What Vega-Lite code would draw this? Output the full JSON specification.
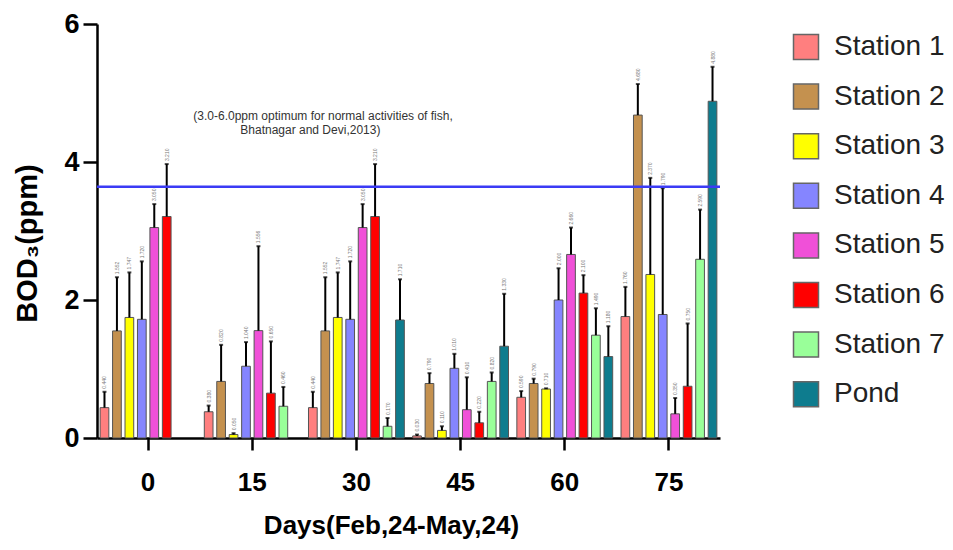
{
  "$schema": "https://vega.github.io/schema/vega-lite/v6.json",
  "width": 623,
  "height": 414,
  "autosize": {"type": "none"},
  "padding": {"left": 97, "top": 24, "right": 233, "bottom": 112},
  "background": "white",
  "config": {
    "view": {"stroke": null},
    "font": "Liberation Sans",
    "axis": {"grid": false, "domainColor": "black", "domainWidth": 2.5, "tickColor": "black", "tickWidth": 2.5, "labelColor": "black", "titleColor": "black", "labelFont": "Liberation Sans", "titleFont": "Liberation Sans", "labelFontWeight": "bold", "titleFontWeight": "bold"}
  },
  "datasets": {
    "bod": [
      {"day": "0", "station": "Station 1", "mean": 0.44, "upper": 0.67},
      {"day": "0", "station": "Station 2", "mean": 1.552, "upper": 2.33},
      {"day": "0", "station": "Station 3", "mean": 1.747, "upper": 2.40},
      {"day": "0", "station": "Station 4", "mean": 1.72, "upper": 2.56},
      {"day": "0", "station": "Station 5", "mean": 3.05, "upper": 3.39},
      {"day": "0", "station": "Station 6", "mean": 3.21, "upper": 3.97},
      {"day": "15", "station": "Station 1", "mean": 0.38, "upper": 0.47},
      {"day": "15", "station": "Station 2", "mean": 0.82, "upper": 1.35},
      {"day": "15", "station": "Station 3", "mean": 0.05, "upper": 0.07},
      {"day": "15", "station": "Station 4", "mean": 1.04, "upper": 1.39},
      {"day": "15", "station": "Station 5", "mean": 1.556, "upper": 2.78},
      {"day": "15", "station": "Station 6", "mean": 0.65, "upper": 1.40},
      {"day": "15", "station": "Station 7", "mean": 0.46, "upper": 0.74},
      {"day": "30", "station": "Station 1", "mean": 0.44, "upper": 0.67},
      {"day": "30", "station": "Station 2", "mean": 1.552, "upper": 2.33},
      {"day": "30", "station": "Station 3", "mean": 1.747, "upper": 2.40},
      {"day": "30", "station": "Station 4", "mean": 1.72, "upper": 2.56},
      {"day": "30", "station": "Station 5", "mean": 3.05, "upper": 3.39},
      {"day": "30", "station": "Station 6", "mean": 3.21, "upper": 3.97},
      {"day": "30", "station": "Station 7", "mean": 0.17, "upper": 0.29},
      {"day": "30", "station": "Pond", "mean": 1.71, "upper": 2.30},
      {"day": "45", "station": "Station 1", "mean": 0.03, "upper": 0.05},
      {"day": "45", "station": "Station 2", "mean": 0.79, "upper": 0.94},
      {"day": "45", "station": "Station 3", "mean": 0.11, "upper": 0.17},
      {"day": "45", "station": "Station 4", "mean": 1.01, "upper": 1.22},
      {"day": "45", "station": "Station 5", "mean": 0.41, "upper": 0.88},
      {"day": "45", "station": "Station 6", "mean": 0.22, "upper": 0.38},
      {"day": "45", "station": "Station 7", "mean": 0.82, "upper": 0.95},
      {"day": "45", "station": "Pond", "mean": 1.33, "upper": 2.09},
      {"day": "60", "station": "Station 1", "mean": 0.59, "upper": 0.68},
      {"day": "60", "station": "Station 2", "mean": 0.79, "upper": 0.86},
      {"day": "60", "station": "Station 3", "mean": 0.71, "upper": 0.72},
      {"day": "60", "station": "Station 4", "mean": 2.00, "upper": 2.46},
      {"day": "60", "station": "Station 5", "mean": 2.66, "upper": 3.05},
      {"day": "60", "station": "Station 6", "mean": 2.10, "upper": 2.36},
      {"day": "60", "station": "Station 7", "mean": 1.49, "upper": 1.88},
      {"day": "60", "station": "Pond", "mean": 1.18, "upper": 1.62},
      {"day": "75", "station": "Station 1", "mean": 1.76, "upper": 2.19},
      {"day": "75", "station": "Station 2", "mean": 4.68, "upper": 5.13},
      {"day": "75", "station": "Station 3", "mean": 2.37, "upper": 3.77},
      {"day": "75", "station": "Station 4", "mean": 1.79, "upper": 3.62},
      {"day": "75", "station": "Station 5", "mean": 0.35, "upper": 0.58},
      {"day": "75", "station": "Station 6", "mean": 0.75, "upper": 1.66},
      {"day": "75", "station": "Station 7", "mean": 2.59, "upper": 3.31},
      {"day": "75", "station": "Pond", "mean": 4.88, "upper": 5.38}
    ],
    "note1": [{"label": "(3.0-6.0ppm optimum for normal activities of fish,", "day": "15", "y": 4.67}],
    "note2": [{"label": "Bhatnagar and Devi,2013)", "day": "15", "y": 4.46}],
    "optimum": [{"y": 3.64}]
  },
  "layer": [
    {
      "data": {"name": "bod"},
      "mark": {"type": "bar", "stroke": "#555555", "strokeWidth": 1},
      "encoding": {
        "x": {"field": "day", "type": "nominal", "sort": ["0", "15", "30", "45", "60", "75"],
              "scale": {"domain": ["0", "15", "30", "45", "60", "75"], "paddingInner": 0.08, "paddingOuter": 0.03},
              "axis": {"labelAngle": 0, "labelFontSize": 26, "tickSize": 12, "labelPadding": 19, "title": "Days(Feb,24-May,24)", "titleFontSize": 26, "titlePadding": 17, "titleX": 294}},
        "xOffset": {"field": "station", "type": "nominal",
                    "scale": {"domain": ["Station 1", "Station 2", "Station 3", "Station 4", "Station 5", "Station 6", "Station 7", "Pond"], "paddingInner": 0.3, "paddingOuter": 0}},
        "y": {"field": "mean", "type": "quantitative",
              "scale": {"domain": [0, 6], "nice": false},
              "axis": {"values": [0, 2, 4, 6], "format": "d", "labelFontSize": 27, "tickSize": 14, "labelPadding": 4, "title": "BOD₃(ppm)", "titleFontSize": 29, "titlePadding": 21, "titleY": 219}},
        "color": {"field": "station", "type": "nominal",
                  "scale": {"domain": ["Station 1", "Station 2", "Station 3", "Station 4", "Station 5", "Station 6", "Station 7", "Pond"],
                            "range": ["#FF7F7F", "#C4914F", "#FFFF00", "#8585FF", "#F050D8", "#FF0000", "#99FF99", "#0E7C8E"]},
                  "legend": {"title": null, "orient": "none", "legendX": 695, "legendY": 9, "padding": 0, "symbolType": "square", "symbolSize": 625, "symbolStrokeColor": "#666666", "symbolStrokeWidth": 1.5, "symbolOpacity": 1, "labelFontSize": 28, "labelFont": "Liberation Sans", "labelColor": "#222222", "labelOffset": 14, "rowPadding": 17.6, "labelLimit": 300}}
      }
    },
    {
      "data": {"name": "bod"},
      "mark": {"type": "rule", "color": "black", "strokeWidth": 2},
      "encoding": {
        "x": {"field": "day", "type": "nominal", "sort": ["0", "15", "30", "45", "60", "75"]},
        "xOffset": {"field": "station", "type": "nominal"},
        "y": {"field": "mean", "type": "quantitative"},
        "y2": {"field": "upper"}
      }
    },
    {
      "data": {"name": "bod"},
      "mark": {"type": "tick", "color": "black", "thickness": 2, "size": 4},
      "encoding": {
        "x": {"field": "day", "type": "nominal", "sort": ["0", "15", "30", "45", "60", "75"]},
        "xOffset": {"field": "station", "type": "nominal"},
        "y": {"field": "upper", "type": "quantitative"}
      }
    },
    {
      "data": {"name": "bod"},
      "mark": {"type": "text", "angle": 270, "align": "left", "baseline": "middle", "dx": 3, "fontSize": 5, "color": "#777777"},
      "encoding": {
        "x": {"field": "day", "type": "nominal", "sort": ["0", "15", "30", "45", "60", "75"]},
        "xOffset": {"field": "station", "type": "nominal"},
        "y": {"field": "upper", "type": "quantitative"},
        "text": {"field": "mean", "type": "quantitative", "format": ".3f"}
      }
    },
    {
      "data": {"name": "optimum"},
      "mark": {"type": "rule", "color": "#3B3BF5", "strokeWidth": 2.5},
      "encoding": {"y": {"field": "y", "type": "quantitative"}}
    },
    {
      "data": {"name": "note1"},
      "mark": {"type": "text", "align": "left", "baseline": "middle", "fontSize": 12, "color": "#333333", "dx": -11},
      "encoding": {
        "x": {"field": "day", "type": "nominal", "bandPosition": 0},
        "y": {"field": "y", "type": "quantitative"},
        "text": {"field": "label"}
      }
    },
    {
      "data": {"name": "note2"},
      "mark": {"type": "text", "align": "left", "baseline": "middle", "fontSize": 12, "color": "#333333", "dx": 36},
      "encoding": {
        "x": {"field": "day", "type": "nominal", "bandPosition": 0},
        "y": {"field": "y", "type": "quantitative"},
        "text": {"field": "label"}
      }
    }
  ]
}
